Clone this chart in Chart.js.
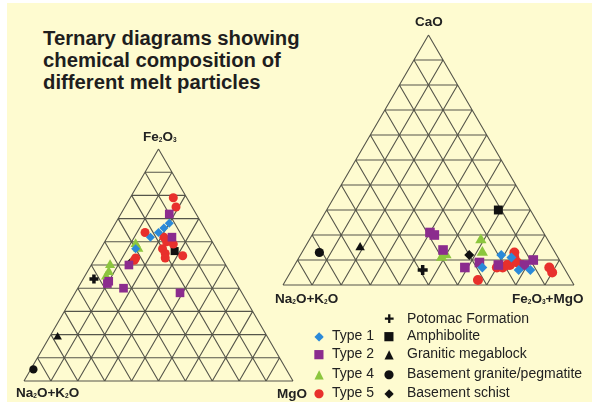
<!DOCTYPE html>
<html>
<head>
<meta charset="utf-8">
<script src="https://cdn.jsdelivr.net/npm/chart.js@4/dist/chart.umd.min.js"></script>
<style>
  body { margin: 0; background: #fff; font-family: "Liberation Sans", Arial, sans-serif; }
  #page { position: relative; width: 594px; height: 402px; overflow: hidden; }
  #bg { position: absolute; left: 7px; top: 3px; width: 585px; height: 399px; background: #fefbd0; }
  canvas { position: absolute; }
  .lbl { position: absolute; font-weight: bold; font-size: 13.5px; line-height: 13px; color: #222; white-space: nowrap; }
  .lbl sub { font-size: 6.5px; vertical-align: -1px; }
  #title { position: absolute; left: 43px; top: 27px; font-weight: bold; font-size: 20.3px; line-height: 22px; color: #1e1e1e; }
  .leg { position: absolute; font-size: 14px; line-height: 14px; color: #222; white-space: nowrap; }
  .leg span { display: inline-block; width: 14px; text-align: center; font-family: "DejaVu Sans", sans-serif; font-size: 12px; margin-right: 6px; }
  .leg.wide span { margin-right: 11px; }
</style>
</head>
<body>
<div id="page">
  <div id="bg"></div>
  <div id="title">Ternary diagrams showing<br>chemical composition of<br>different melt particles</div>
  <canvas id="left" width="340" height="272" style="left:0;top:130px"></canvas>
  <canvas id="right" width="334" height="310" style="left:260px;top:0"></canvas>
  <div class="lbl" style="left:143px;top:130px">Fe<sub>2</sub>O<sub>3</sub></div>
  <div class="lbl" style="left:16px;top:386px">Na<sub>2</sub>O+K<sub>2</sub>O</div>
  <div class="lbl" style="left:277px;top:387px">MgO</div>
  <div class="lbl" style="left:415px;top:15px">CaO</div>
  <div class="lbl" style="left:275px;top:292px">Na<sub>2</sub>O+K<sub>2</sub>O</div>
  <div class="lbl" style="left:512px;top:292px">Fe<sub>2</sub>O<sub>3</sub>+MgO</div>
  <div id="legend"></div>
</div>
<script>
// ternary values in percent, each point is [top, right, left]
// left diagram: [Fe2O3, MgO, Na2O+K2O]
var type1Left = [[68,20,12],[66,19,15],[64,18,18],[62,16,22],[57,13,30]]
var type2Left = [[72,18,10],[62,24,14],[50,14,36],[43,10,47],[42,10,48],[40,17,43],[38,39,23]]
var type4Left = [[59,12,29],[57,14,29],[50,7,43],[47,8,45],[45,8,47]]
var type5Left = [[79,16,5],[75,19,6],[64,13,23],[62,21,17],[60,23,17],[59,26,15],[57,23,20],[55,25,20],[53,26,21],[54,32,14],[53,15,32],[52,15,33]]
var potomacLeft = [[44,4,52]]
var amphiboliteLeft = [[56,28,16]]
var megablockLeft = [[19,3,78]]
var graniteLeft = [[5,1,94]]
var schistLeft = [[51,14,35]]

// right diagram: [CaO, Fe2O3+MgO, Na2O+K2O]
var type1Right = [[7,65,28],[12,69,19],[11,73,16],[6,78,16],[6,82,12]]
var type2Right = [[21,40,39],[20,42,38],[14,48,38],[7,59,34],[9,63,28],[8,70,22],[10,81,9],[8,79,13]]
var type4Right = [[18,59,23],[13,62,25],[12,50,38],[11,49,40]]
var type5Right = [[13,73,14],[2,66,32],[7,72,21],[8,73,19],[8,74,18],[11,74,15],[9,76,15],[8,78,14],[7,88,5],[5,90,5],[7,70,23]]
var potomacRight = [[6,45,49]]
var amphiboliteRight = [[30,59,11]]
var megablockRight = [[15,19,66]]
var graniteRight = [[13,6,81]]
var schistRight = [[12,58,30]]

var seriesNames = ['Type 1', 'Type 2', 'Type 4', 'Type 5', 'Potomac Formation', 'Amphibolite', 'Granitic megablock', 'Basement granite/pegmatite', 'Basement schist']
var seriesColors = ['#2b8ad8', '#8b2c8e', '#8cc63e', '#e8302c', '#111', '#111', '#111', '#111', '#111']
var seriesStyles = ['rectRot', 'rect', 'triangle', 'circle', 'cross', 'rect', 'triangle', 'circle', 'rectRot']
var seriesSizes = [5, 6.8, 6.5, 5, 5, 6.3, 5.5, 4.6, 5]
var seriesGlyphs = ['\u25C6', '\u25A0', '\u25B2', '\u25CF', '\u271A', '\u25A0', '\u25B2', '\u25CF', '\u25C6']

var leftData = [type1Left, type2Left, type4Left, type5Left, potomacLeft, amphiboliteLeft, megablockLeft, graniteLeft, schistLeft]
var rightData = [type1Right, type2Right, type4Right, type5Right, potomacRight, amphiboliteRight, megablockRight, graniteRight, schistRight]

function toXY(p) {
    return { x: (p[1] + p[0] / 2) / 100, y: p[0] / 100 }
}

var triGrid = {
    id: 'triGrid',
    beforeDatasetsDraw(chart) {
        var ctx = chart.ctx
        var sx = chart.scales.x, sy = chart.scales.y
        var P = (r, t) => [sx.getPixelForValue(r + t / 2), sy.getPixelForValue(t)]
        var line = (a, b) => { ctx.moveTo(a[0], a[1]); ctx.lineTo(b[0], b[1]) }
        ctx.save()
        ctx.strokeStyle = '#55554a'
        ctx.lineWidth = 1.1
        ctx.beginPath()
        for (var i = 1; i < 10; i++) {
            var f = i / 10
            line(P(0, f), P(1 - f, f))
            line(P(f, 0), P(f, 1 - f))
            line(P(1 - f, 0), P(0, 1 - f))
        }
        line(P(0, 0), P(1, 0))
        line(P(1, 0), P(0, 1))
        line(P(0, 1), P(0, 0))
        ctx.stroke()
        ctx.restore()
    }
}

function makeChart(id, sets, padding, scale) {
    new Chart(document.getElementById(id), {
        type: 'scatter',
        data: {
            datasets: sets.map((pts, i) => ({
                label: seriesNames[i],
                data: pts.map(toXY),
                pointStyle: seriesStyles[i],
                pointRadius: seriesSizes[i] * scale,
                backgroundColor: seriesColors[i],
                borderColor: seriesColors[i],
                borderWidth: seriesStyles[i] == 'cross' ? 3.5 : 0,
                clip: false
            }))
        },
        plugins: [triGrid],
        options: {
            responsive: false,
            animation: false,
            layout: { padding: padding },
            plugins: { legend: { display: false }, tooltip: { enabled: false } },
            scales: {
                x: { display: false, min: 0, max: 1 },
                y: { display: false, min: 0, max: 1 }
            }
        }
    })
}

makeChart('left', leftData, { left: 24, top: 19, right: 47, bottom: 21 }, 0.9)
makeChart('right', rightData, { left: 23, top: 35, right: 20, bottom: 25 }, 1.0)

// legend: types on the left column, sample groups on the right
var legendRows = { 0: [312, 328], 1: [312, 346], 2: [312, 366], 3: [312, 385],
    4: [382, 311], 5: [382, 328], 6: [382, 346], 7: [382, 366], 8: [382, 385] }
var legend = document.getElementById('legend')
seriesNames.forEach((name, i) => {
    var d = document.createElement('div')
    d.className = i > 3 ? 'leg wide' : 'leg'
    d.style.left = legendRows[i][0] + 'px'
    d.style.top = legendRows[i][1] + 'px'
    d.innerHTML = '<span style="color:' + seriesColors[i] + '">' + seriesGlyphs[i] + '</span>' + name
    legend.appendChild(d)
})
</script>
</body>
</html>
